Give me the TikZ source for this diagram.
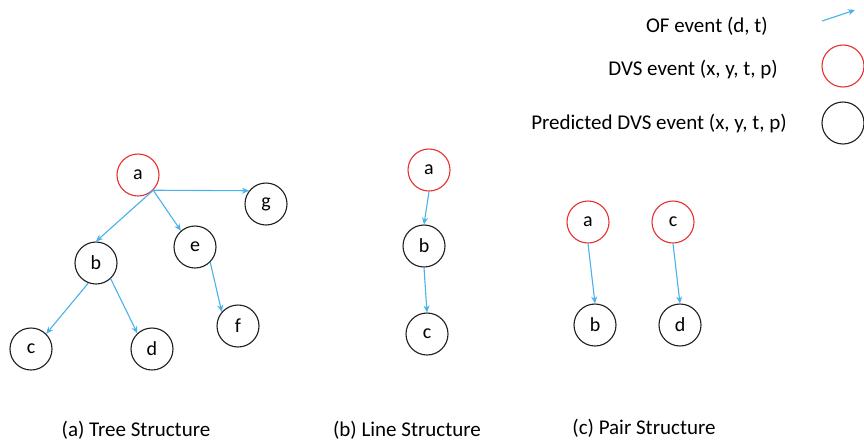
\documentclass[tikz,border=0pt]{standalone}
\usepackage{fontspec}
\setmainfont{Carlito}
\usetikzlibrary{arrows.meta}
\definecolor{dvsred}{RGB}{232,48,48}
\definecolor{ofblue}{RGB}{72,178,234}
\definecolor{predgray}{RGB}{30,30,30}
\tikzset{
  dvs/.style={circle, draw=dvsred, line width=1.1pt, minimum size=42pt, inner sep=0pt, font=\fontsize{20}{24}\selectfont},
  pred/.style={circle, draw=predgray, line width=1.1pt, minimum size=42pt, inner sep=0pt, font=\fontsize{20}{24}\selectfont},
  of/.style={draw=ofblue, line width=1.1pt, -{Stealth[length=7pt,width=6pt]}},
  legtext/.style={anchor=east, inner sep=0pt, font=\fontsize{21}{25}\selectfont},
  caption/.style={anchor=center, inner sep=0pt, font=\fontsize{21}{25}\selectfont}
}
\begin{document}
\begin{tikzpicture}[x=1pt,y=-1pt]
\useasboundingbox (0,0) rectangle (864,440);
\fill[white] (0,0) rectangle (864,440);

% legend
\node[legtext] (lof) at (768,26) {OF event (d, t)};
\node[legtext] (ldvs) at (778,70) {DVS event (x, y, t, p)};
\node[legtext] (lpred) at (787,124) {Predicted DVS event (x, y, t, p)};
\coordinate (ofs) at (822,21);
\coordinate (ofe) at (855,10);
\draw[of] (ofs) -- (ofe);
\node[dvs] (kdvs) at (843,66) {};
\node[pred] (kpred) at (843,123) {};

% (a) tree structure
\node[dvs]  (ta) at (138,175) {a};
\node[pred] (tg) at (266,204) {g};
\node[pred] (tb) at (96,263) {b};
\node[pred] (te) at (195,247) {e};
\node[pred] (tc) at (31,349) {c};
\node[pred] (td) at (152,349) {d};
\node[pred] (tf) at (238,326) {f};
\draw[of] (ta.-45) -- (tg.142);
\draw[of] (ta.-45) -- (tb.north);
\draw[of] (ta.-45) -- (te.131);
\draw[of] (tb.-111) -- (tc.45);
\draw[of] (tb.-47) -- (td.133);
\draw[of] (te.-45) -- (tf.139);

% (b) line structure
\node[dvs]  (la) at (429,170) {a};
\node[pred] (lb) at (424,246) {b};
\node[pred] (lc) at (427,334) {c};
\draw[of] (la.south) -- (lb.north);
\draw[of] (lb.south) -- (lc.north);

% (c) pair structure
\node[dvs]  (pa) at (588,222) {a};
\node[dvs]  (pc) at (673,222) {c};
\node[pred] (pb) at (595,325) {b};
\node[pred] (pd) at (680,325) {d};
\draw[of] (pa.south) -- (pb.north);
\draw[of] (pc.south) -- (pd.north);

% captions
\node[caption] (capa) at (136,430) {(a) Tree Structure};
\node[caption] (capb) at (407,430) {(b) Line Structure};
\node[caption] (capc) at (644,428) {(c) Pair Structure};
\end{tikzpicture}
\end{document}
